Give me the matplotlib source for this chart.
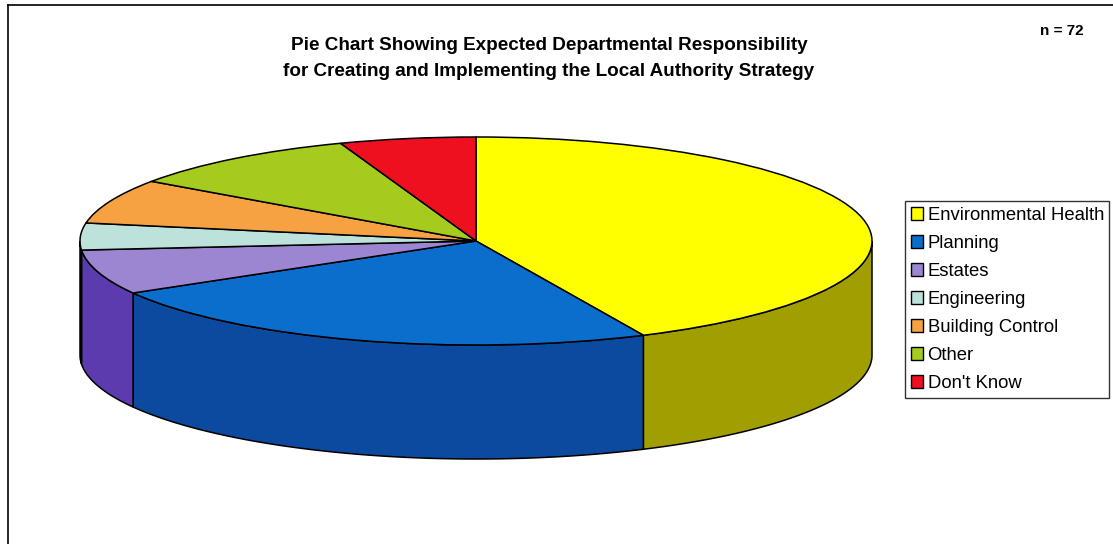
import numpy as np
import matplotlib
matplotlib.use("Agg")
import matplotlib.pyplot as plt
from matplotlib.patches import Polygon
from matplotlib.lines import Line2D

plt.rcParams['font.family'] = ['Liberation Sans', 'DejaVu Sans']

# ---- data ----
categories = ["Environmental Health", "Planning", "Estates", "Engineering",
              "Building Control", "Other", "Don't Know"]
counts = [31, 17, 5, 3, 5, 7, 4]
n_total = 72
title_lines = ["Pie Chart Showing Expected Departmental Responsibility",
               "for Creating and Implementing the Local Authority Strategy"]

top_colors = ["#FFFF00", "#0B6DCC", "#9C86D2", "#BDE2DC", "#F6A242", "#A6CB1F", "#EE0F1F"]
side_colors = ["#A09E00", "#0B4A9F", "#5C3BAE", "#8FB0AA", "#B8742A", "#718C10", "#A80A14"]

W, H = 1113, 544
fig = plt.figure(figsize=(W / 100, H / 100), dpi=100)
fig.patch.set_facecolor("white")

# ellipse geometry (pixels)
cx, cy = 476, 241
a, b = 396, 104
depth = 114

ax = fig.add_axes([0, 0, 1, 1])
wedges, _ = ax.pie(counts, colors=top_colors, startangle=90, counterclock=False,
                   wedgeprops=dict(edgecolor="black", linewidth=1.1, zorder=3))
ax.set_aspect("auto")
ax.set_xlim((0 - cx) / a, (W - cx) / a)
ax.set_ylim((cy - H) / b, cy / b)
ax.axis("off")

d = depth / b
for w, sc in zip(wedges, side_colors):
    t1, t2 = sorted([w.theta1, w.theta2])
    for k in (-1, 0, 1):
        lo, hi = k * 360 - 180, k * 360
        s, e = max(t1, lo), min(t2, hi)
        if e - s > 0.01:
            tt = np.radians(np.linspace(s, e, 200))
            xs, ys = np.cos(tt), np.sin(tt)
            pts = np.concatenate([np.column_stack([xs, ys]),
                                  np.column_stack([xs[::-1], ys[::-1] - d])])
            ax.add_patch(Polygon(pts, closed=True, facecolor=sc, edgecolor="black",
                                 linewidth=1.1, zorder=2))

# title and n
fig.text(549 / W, 1 - 45 / H, title_lines[0], ha="center", va="center",
         fontsize=13.6, fontweight="bold")
fig.text(549 / W, 1 - 71 / H, title_lines[1], ha="center", va="center",
         fontsize=13.6, fontweight="bold")
fig.text(1062 / W, 1 - 31 / H, f"n = {n_total}", ha="center", va="center",
         fontsize=11, fontweight="bold")

# legend
leg = fig.legend(wedges, categories, loc="upper left",
                 bbox_to_anchor=(905 / W, 1 - 201 / H), borderaxespad=0,
                 fontsize=13.3, frameon=True, fancybox=False, edgecolor="black",
                 handlelength=0.7, handleheight=0.7, handletextpad=0.22,
                 labelspacing=0.6, borderpad=0.3)
leg.get_frame().set_linewidth(1.0)
for h in leg.legend_handles:
    h.set_edgecolor("black")
    h.set_linewidth(1.0)

# outer frame (top and left visible)
fig.add_artist(Line2D([8 / W, 1], [1 - 5 / H, 1 - 5 / H], color="black", lw=1.2,
                      transform=fig.transFigure))
fig.add_artist(Line2D([8 / W, 8 / W], [1 - 5 / H, 0], color="black", lw=1.2,
                      transform=fig.transFigure))

fig.savefig("out.png", dpi=100, facecolor="white")
